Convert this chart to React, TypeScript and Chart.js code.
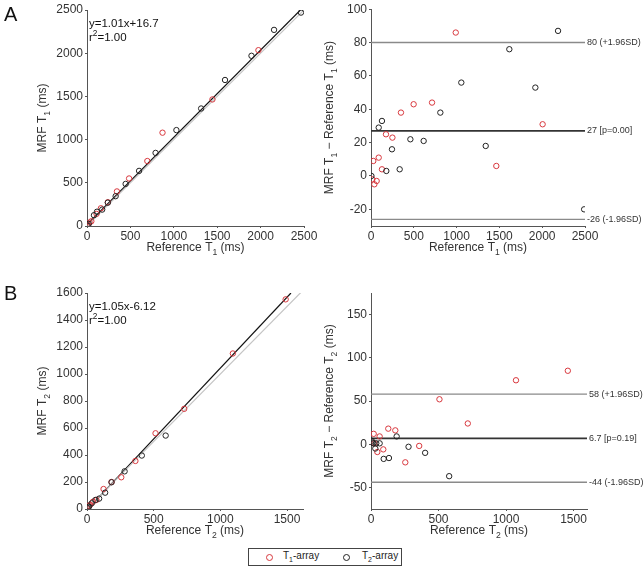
import React, { useEffect, useRef } from "react";
import { Chart, registerables } from "chart.js";
Chart.register(...registerables);

const FONT = "'Liberation Sans', Arial, sans-serif";
const RED = "#d8383e";
const BLK = "#222222";

// ---------- Panel A (T1) : MRF vs reference ----------
const aLeftRedRef = [10, 30, 50, 110, 160, 240, 345, 485, 695, 870, 1445, 1975];
const aLeftRedMrf = [20, 40, 55, 140, 205, 275, 400, 550, 752, 1080, 1465, 2035];
const aLeftBlkRef = [5, 20, 80, 115, 175, 240, 330, 445, 600, 790, 1030, 1315, 1590, 1895, 2155, 2465];
const aLeftBlkMrf = [5, 25, 125, 165, 190, 270, 345, 487, 638, 846, 1110, 1360, 1690, 1970, 2270, 2470];
const aFitSlope = 1.01;
const aFitIntercept = 16.7;
const aAxisMax = 2500;
const aTicks = [0, 500, 1000, 1500, 2000, 2500];

// ---------- Panel A (T1) : Bland-Altman ----------
const aRightRedRef = [16, 27, 39, 66, 90, 128, 175, 250, 350, 498, 713, 990, 1464, 2005];
const aRightRedDiff = [-2, 9, -5, -3, 11, 4, 25, 23, 38, 43, 44, 86, 6, 31];
const aRightBlkRef = [5, 90, 128, 179, 245, 335, 460, 615, 810, 1055, 1340, 1616, 1920, 2185, 2490];
const aRightBlkDiff = [0, 29, 33, 3, 16, 4, 22, 21, 38, 56, 18, 76, 53, 87, -20];
const aMean = 27;
const aUpper = 80;
const aLower = -26;
const aP = "0.00";
const aDiffMin = -30;
const aDiffMax = 100;
const aDiffTicks = [-20, 0, 20, 40, 60, 80, 100];

// ---------- Panel B (T2) : MRF vs reference ----------
const bLeftRedRef = [15, 25, 45, 71, 124, 184, 257, 363, 514, 729, 1094, 1490];
const bLeftRedMrf = [22, 32, 54, 67, 148, 200, 235, 356, 561, 742, 1152, 1553];
const bLeftBlkRef = [5, 15, 35, 63, 91, 136, 184, 282, 411, 590];
const bLeftBlkMrf = [7, 17, 42, 67, 77, 121, 198, 279, 396, 544];
const bFitSlope = 1.05;
const bFitIntercept = -6.12;
const bXMax = 1620;
const bYMax = 1600;
const bXTicks = [0, 500, 1000, 1500];
const bYTicks = [0, 200, 400, 600, 800, 1000, 1200, 1400, 1600];

// ---------- Panel B (T2) : Bland-Altman ----------
const bRightRedRef = [20, 25, 47, 64, 91, 128, 180, 254, 357, 507, 717, 1074, 1458];
const bRightRedDiff = [12, 1, -9, 9, -6, 18, 16, -21, -2, 52, 24, 74, 85];
const bRightBlkRef = [5, 10, 17, 39, 32, 64, 94, 133, 190, 278, 401, 579];
const bRightBlkDiff = [4, 2, 1, 1, -5, 1, -17, -16, 9, -3, -10, -37];
const bMean = 6.7;
const bUpper = 58;
const bLower = -44;
const bP = "0.19";
const bRefMax = 1600;
const bDiffMin = -75;
const bDiffMax = 175;
const bDiffTicks = [-50, 0, 50, 100, 150];

type Part = { t: string; sub?: boolean; sup?: boolean };

const zip = (xs: number[], ys: number[]) => xs.map((x, i) => ({ x, y: ys[i] }));

function drawRich(ctx: CanvasRenderingContext2D, parts: Part[], x: number, y: number, size: number, align: "left" | "center") {
  const fontFor = (p: Part) => `${p.sub || p.sup ? size * 0.72 : size}px ${FONT}`;
  let total = 0;
  for (const p of parts) {
    ctx.font = fontFor(p);
    total += ctx.measureText(p.t).width;
  }
  let cx = align === "center" ? x - total / 2 : x;
  ctx.textAlign = "left";
  ctx.textBaseline = "middle";
  for (const p of parts) {
    ctx.font = fontFor(p);
    const dy = p.sub ? size * 0.38 : p.sup ? -size * 0.35 : 0;
    ctx.fillText(p.t, cx, y + dy);
    cx += ctx.measureText(p.t).width;
  }
}

interface PanelCfg {
  left: number; top: number; width: number; height: number;
  padL: number; padR: number; padT: number; yAxisW: number; xAxisH: number; yTitleOff: number;
  xMin: number; xMax: number; yMin: number; yMax: number;
  xTicks: number[]; yTicks: number[];
  red: { x: number; y: number }[]; black: { x: number; y: number }[];
  lines: { pts: { x: number; y: number }[]; color: string; width: number }[];
  xTitle: Part[]; yTitle: Part[];
  notes: Part[][];
  sideLabels: { v: number; text: string }[];
}

function Panel({ cfg }: { cfg: PanelCfg }) {
  const ref = useRef<HTMLCanvasElement | null>(null);
  useEffect(() => {
    if (!ref.current) return;
    const textPlugin = {
      id: "texts",
      afterDraw(chart: any) {
        const ctx: CanvasRenderingContext2D = chart.ctx;
        const a = chart.chartArea;
        ctx.save();
        ctx.fillStyle = "#333";
        drawRich(ctx, cfg.xTitle, (a.left + a.right) / 2, a.bottom + 22, 12, "center");
        ctx.save();
        ctx.translate(a.left - cfg.yTitleOff, (a.top + a.bottom) / 2);
        ctx.rotate(-Math.PI / 2);
        drawRich(ctx, cfg.yTitle, 0, 0, 12, "center");
        ctx.restore();
        ctx.fillStyle = "#111";
        cfg.notes.forEach((n, i) => drawRich(ctx, n, a.left + 2, a.top + 14 + i * 14, 11.5, "left"));
        ctx.fillStyle = "#333";
        const ys = chart.scales.y;
        cfg.sideLabels.forEach((s) => {
          ctx.font = `9px ${FONT}`;
          ctx.textAlign = "left";
          ctx.textBaseline = "middle";
          ctx.fillText(s.text, a.right + 2, ys.getPixelForValue(s.v));
        });
        ctx.restore();
      },
    };
    const axisCommon = {
      type: "linear" as const,
      grid: { drawOnChartArea: false, drawTicks: true, tickLength: 2, color: "#555" },
      border: { color: "#555", width: 1 },
      ticks: {
        color: "#333", font: { family: FONT, size: 12 }, padding: 1, maxRotation: 0, autoSkip: false,
        callback: (v: any) => String(v),
      },
    };
    const chart = new Chart(ref.current, {
      type: "scatter",
      data: {
        datasets: [
          ...cfg.lines.map((l) => ({
            data: l.pts, showLine: true, pointRadius: 0, borderColor: l.color, borderWidth: l.width,
            order: 2,
          })),
          { data: cfg.red, pointRadius: 2.7, pointBorderWidth: 1, borderColor: RED, backgroundColor: "rgba(0,0,0,0)", pointStyle: "circle", order: 1 },
          { data: cfg.black, pointRadius: 2.7, pointBorderWidth: 1, borderColor: BLK, backgroundColor: "rgba(0,0,0,0)", pointStyle: "circle", order: 0 },
        ] as any,
      },
      options: {
        animation: false,
        responsive: false,
        maintainAspectRatio: false,
        layout: { padding: { left: cfg.padL, right: cfg.padR, top: cfg.padT, bottom: 0 } },
        plugins: { legend: { display: false }, tooltip: { enabled: false } },
        scales: {
          x: {
            ...axisCommon, min: cfg.xMin, max: cfg.xMax,
            afterBuildTicks: (s: any) => { s.ticks = cfg.xTicks.map((v) => ({ value: v })); },
            afterFit: (s: any) => { s.height = cfg.xAxisH; },
          },
          y: {
            ...axisCommon, min: cfg.yMin, max: cfg.yMax,
            ticks: { ...axisCommon.ticks, padding: 2 },
            afterBuildTicks: (s: any) => { s.ticks = cfg.yTicks.map((v) => ({ value: v })); },
            afterFit: (s: any) => { s.width = cfg.yAxisW; },
          },
        } as any,
      },
      plugins: [textPlugin],
    });
    return () => chart.destroy();
  }, [cfg]);
  return (
    <canvas
      ref={ref}
      width={cfg.width}
      height={cfg.height}
      style={{ position: "absolute", left: cfg.left, top: cfg.top, width: cfg.width, height: cfg.height }}
    />
  );
}

const fitLine = (m: number, b: number, xMax: number, yMax: number) => {
  const xEnd = Math.min(xMax, (yMax - b) / m);
  return [{ x: 0, y: b }, { x: xEnd, y: m * xEnd + b }];
};
const hLine = (v: number, xMax: number) => [{ x: 0, y: v }, { x: xMax, y: v }];

const panels: PanelCfg[] = [
  {
    left: 0, top: 0, width: 320, height: 262,
    padL: 0, padR: 16, padT: 10, yAxisW: 87, xAxisH: 36, yTitleOff: 44,
    xMin: 0, xMax: aAxisMax, yMin: 0, yMax: aAxisMax, xTicks: aTicks, yTicks: aTicks,
    red: zip(aLeftRedRef, aLeftRedMrf), black: zip(aLeftBlkRef, aLeftBlkMrf),
    lines: [
      { pts: [{ x: 0, y: 0 }, { x: aAxisMax, y: aAxisMax }], color: "#c4c4c4", width: 1.2 },
      { pts: fitLine(aFitSlope, aFitIntercept, aAxisMax, aAxisMax), color: "#111", width: 1.2 },
    ],
    xTitle: [{ t: "Reference T" }, { t: "1", sub: true }, { t: " (ms)" }],
    yTitle: [{ t: "MRF T" }, { t: "1", sub: true }, { t: " (ms)" }],
    notes: [[{ t: `y=${aFitSlope.toFixed(2)}x+${aFitIntercept}` }], [{ t: "r" }, { t: "2", sup: true }, { t: "=1.00" }]],
    sideLabels: [],
  },
  {
    left: 320, top: 0, width: 324, height: 262,
    padL: 0, padR: 59, padT: 9, yAxisW: 51, xAxisH: 36, yTitleOff: 41,
    xMin: 0, xMax: aAxisMax, yMin: aDiffMin, yMax: aDiffMax, xTicks: aTicks, yTicks: aDiffTicks,
    red: zip(aRightRedRef, aRightRedDiff), black: zip(aRightBlkRef, aRightBlkDiff),
    lines: [
      { pts: hLine(aUpper, aAxisMax), color: "#8a8a8a", width: 1.4 },
      { pts: hLine(aLower, aAxisMax), color: "#8a8a8a", width: 1.4 },
      { pts: hLine(aMean, aAxisMax), color: "#333", width: 1.8 },
    ],
    xTitle: [{ t: "Reference T" }, { t: "1", sub: true }, { t: " (ms)" }],
    yTitle: [{ t: "MRF T" }, { t: "1", sub: true }, { t: " \u2212 Reference T" }, { t: "1", sub: true }, { t: " (ms)" }],
    notes: [],
    sideLabels: [
      { v: aUpper, text: `${aUpper} (+1.96SD)` },
      { v: aMean, text: `${aMean} [p=${aP}]` },
      { v: aLower, text: `${aLower} (-1.96SD)` },
    ],
  },
  {
    left: 0, top: 262, width: 320, height: 280,
    padL: 0, padR: 17, padT: 31, yAxisW: 87, xAxisH: 33, yTitleOff: 44,
    xMin: 0, xMax: bXMax, yMin: 0, yMax: bYMax, xTicks: bXTicks, yTicks: bYTicks,
    red: zip(bLeftRedRef, bLeftRedMrf), black: zip(bLeftBlkRef, bLeftBlkMrf),
    lines: [
      { pts: [{ x: 0, y: 0 }, { x: bXMax, y: bXMax }], color: "#c4c4c4", width: 1.2 },
      { pts: fitLine(bFitSlope, bFitIntercept, bXMax, bYMax), color: "#111", width: 1.2 },
    ],
    xTitle: [{ t: "Reference T" }, { t: "2", sub: true }, { t: " (ms)" }],
    yTitle: [{ t: "MRF T" }, { t: "2", sub: true }, { t: " (ms)" }],
    notes: [[{ t: `y=${bFitSlope.toFixed(2)}x${bFitIntercept}` }], [{ t: "r" }, { t: "2", sup: true }, { t: "=1.00" }]],
    sideLabels: [],
  },
  {
    left: 320, top: 262, width: 324, height: 280,
    padL: 0, padR: 57, padT: 31, yAxisW: 51, xAxisH: 33, yTitleOff: 41,
    xMin: 0, xMax: bRefMax, yMin: bDiffMin, yMax: bDiffMax, xTicks: bXTicks, yTicks: bDiffTicks,
    red: zip(bRightRedRef, bRightRedDiff), black: zip(bRightBlkRef, bRightBlkDiff),
    lines: [
      { pts: hLine(bUpper, bRefMax), color: "#8a8a8a", width: 1.4 },
      { pts: hLine(bLower, bRefMax), color: "#8a8a8a", width: 1.4 },
      { pts: hLine(bMean, bRefMax), color: "#333", width: 1.8 },
    ],
    xTitle: [{ t: "Reference T" }, { t: "2", sub: true }, { t: " (ms)" }],
    yTitle: [{ t: "MRF T" }, { t: "2", sub: true }, { t: " \u2212 Reference T" }, { t: "2", sub: true }, { t: " (ms)" }],
    notes: [],
    sideLabels: [
      { v: bUpper, text: `${bUpper} (+1.96SD)` },
      { v: bMean, text: `${bMean} [p=${bP}]` },
      { v: bLower, text: `${bLower} (-1.96SD)` },
    ],
  },
];

const circle = (color: string): React.CSSProperties => ({
  position: "absolute", top: 5, width: 5, height: 5, border: `1px solid ${color}`, borderRadius: "50%",
});

export default function App() {
  return (
    <div style={{ position: "absolute", left: 0, top: 0, width: 644, height: 569, background: "#fff", fontFamily: FONT }}>
      {panels.map((p, i) => (
        <Panel key={i} cfg={p} />
      ))}
      <div style={{ position: "absolute", left: 4, top: 3, fontSize: 20, color: "#111" }}>A</div>
      <div style={{ position: "absolute", left: 4, top: 282, fontSize: 20, color: "#111" }}>B</div>
      <div style={{ position: "absolute", left: 248, top: 548, width: 154, height: 18, border: "1px solid #444", boxSizing: "border-box", fontSize: 10, color: "#222" }}>
        <span style={{ ...circle(RED), left: 17 }} />
        <span style={{ position: "absolute", left: 34, top: 1 }}>T<sub style={{ fontSize: 7 }}>1</sub>-array</span>
        <span style={{ ...circle(BLK), left: 94 }} />
        <span style={{ position: "absolute", left: 113, top: 1 }}>T<sub style={{ fontSize: 7 }}>2</sub>-array</span>
      </div>
    </div>
  );
}
